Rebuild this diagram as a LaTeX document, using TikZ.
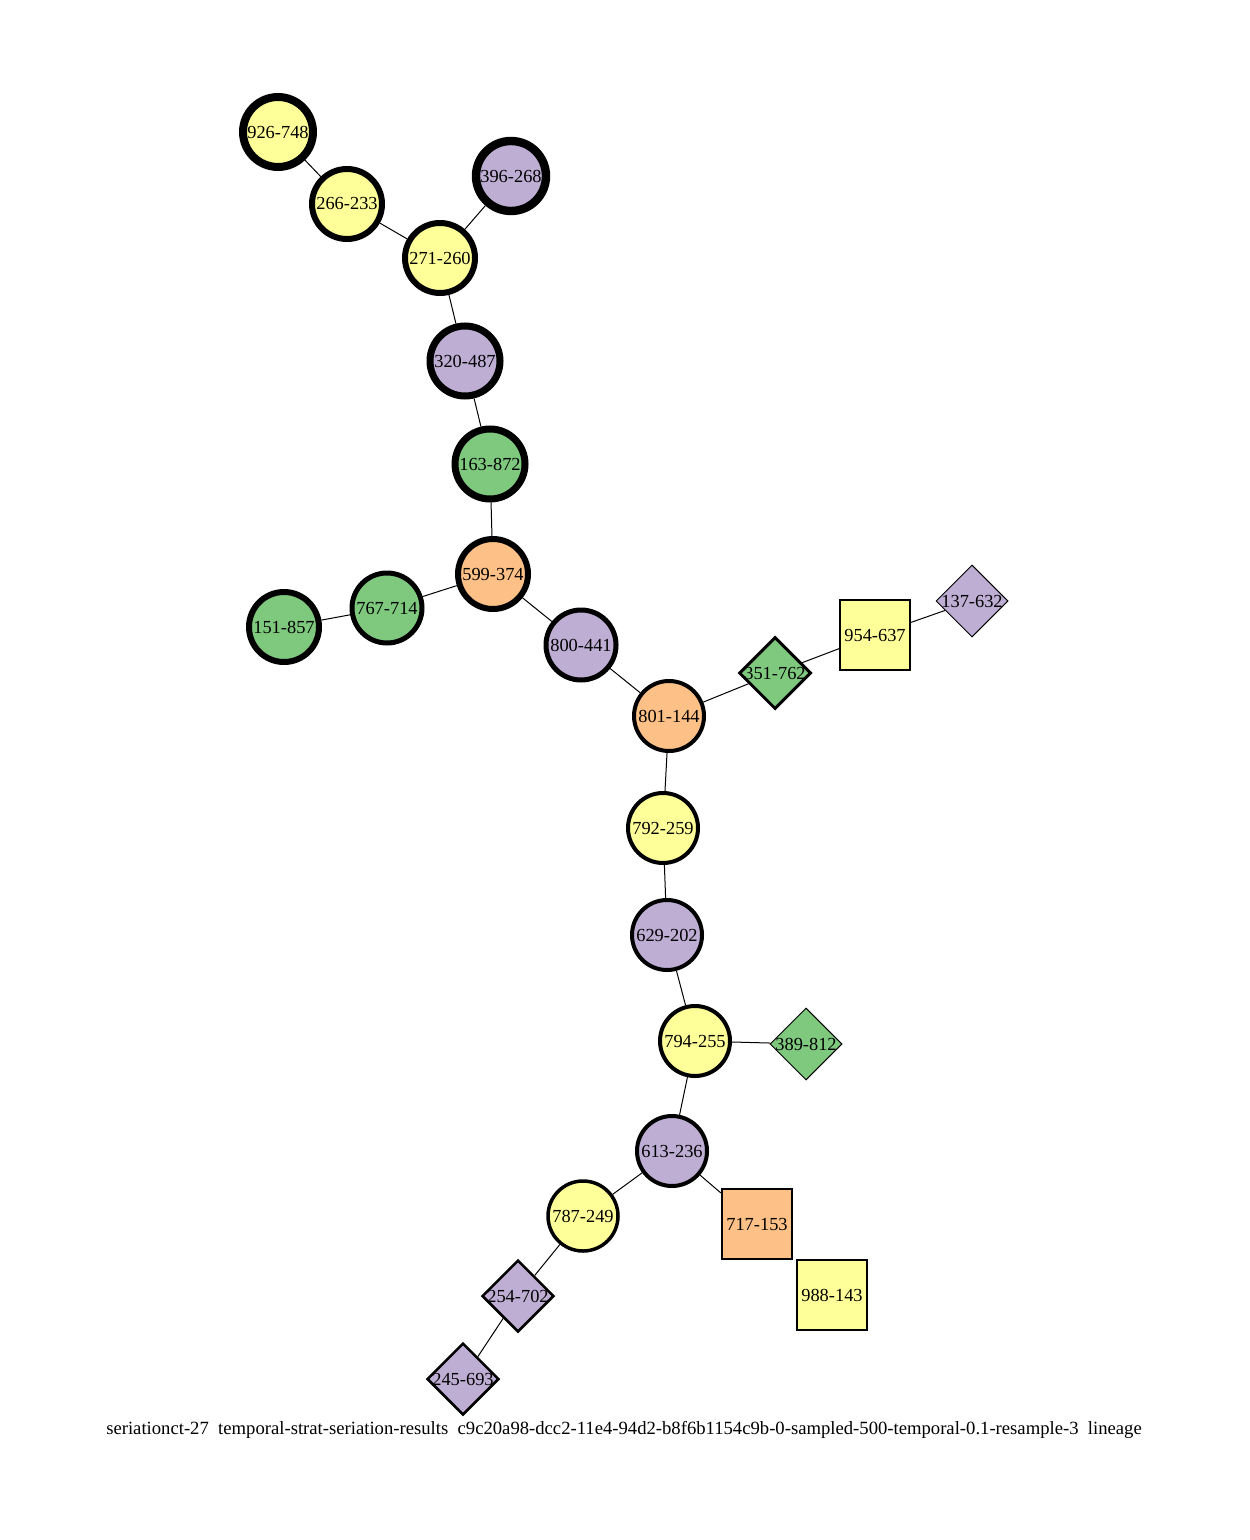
\documentclass[tikz,border=0pt]{standalone}
\usepackage{fontspec}
\setmainfont{Liberation Serif}
\usetikzlibrary{shapes.geometric}
\definecolor{yel}{HTML}{FFFF99}
\definecolor{pur}{HTML}{BEAED4}
\definecolor{grn}{HTML}{7FC97F}
\definecolor{org}{HTML}{FDC086}
\newcommand{\lbl}[1]{\makebox[0pt]{#1}}
\tikzset{
    circ/.style={
        circle, draw, inner sep=0pt, minimum size=35pt
    },
    sq/.style={
        rectangle, draw, inner sep=0pt, minimum size=35pt
    },
    dia/.style={
        diamond, draw, inner sep=0pt, minimum size=36pt
    },
    ln/.style={
        line width=0.5pt
    }
}

\begin{document}
\begin{tikzpicture}[x=0.5pt, y=-0.5pt, font=\fontsize{9.2pt}{11pt}\selectfont]
        \useasboundingbox (0,0) rectangle (1249,1540);

        % upper branch

        \node[circ, fill=yel, line width=4pt]    (n926) at (278,132) {926-748};
        \node[circ, fill=yel, line width=3pt]    (n266) at (347,204) {266-233};
        \node[circ, fill=pur, line width=4.2pt]  (n396) at (511,176) {396-268};
        \node[circ, fill=yel, line width=3pt]    (n271) at (440,258) {271-260};
        \node[circ, fill=pur, line width=3.5pt]  (n320) at (465,361) {320-487};
        \node[circ, fill=grn, line width=3.5pt]  (n163) at (490,464) {163-872};
        \node[circ, fill=org, line width=3pt]    (n599) at (493,574) {599-374};
        \node[circ, fill=grn, line width=2.5pt]  (n767) at (387,608) {767-714};
        \node[circ, fill=grn, line width=3pt]    (n151) at (284,627) {151-857};
        \node[circ, fill=pur, line width=2.5pt]  (n800) at (581,645) {800-441};

        \path (n926) edge[ln] (n266)
                (n266) edge[ln] (n271)
                (n396) edge[ln] (n271)
                (n271) edge[ln] (n320)
                (n320) edge[ln] (n163)
                (n163) edge[ln] (n599)
                (n599) edge[ln] (n767)
                (n767) edge[ln] (n151)
                (n599) edge[ln] (n800);

        % right branch

        \node[circ, fill=org, line width=2pt]    (n801) at (669,716) {801-144};
        \node[dia, fill=grn, line width=1.5pt]   (n351) at (775,673) {\lbl{351-762}};
        \node[sq, fill=yel, line width=0.75pt]   (n954) at (875,635) {954-637};
        \node[dia, fill=pur, line width=0.5pt]   (n137) at (972,601) {\lbl{137-632}};

        \path (n800) edge[ln] (n801)
                (n801) edge[ln] (n351)
                (n351) edge[ln] (n954)
                (n954) edge[ln] (n137);

        % lower branch

        \node[circ, fill=yel, line width=2pt]    (n792) at (663,828) {792-259};
        \node[circ, fill=pur, line width=2pt]    (n629) at (667,935) {629-202};
        \node[circ, fill=yel, line width=2pt]    (n794) at (695,1041) {794-255};
        \node[dia, fill=grn, line width=0.5pt]   (n389) at (806,1044) {\lbl{389-812}};
        \node[circ, fill=pur, line width=2pt]    (n613) at (672,1151) {613-236};
        \node[circ, fill=yel, line width=1.75pt] (n787) at (583,1216) {787-249};
        \node[sq, fill=org, line width=1.25pt]   (n717) at (757,1224) {717-153};
        \node[sq, fill=yel, line width=1.25pt]   (n988) at (832,1295) {988-143};
        \node[dia, fill=pur, line width=1.25pt]  (n254) at (518,1296) {\lbl{254-702}};
        \node[dia, fill=pur, line width=1.25pt]  (n245) at (463,1379) {\lbl{245-693}};

        \path (n801) edge[ln] (n792)
                (n792) edge[ln] (n629)
                (n629) edge[ln] (n794)
                (n794) edge[ln] (n389)
                (n794) edge[ln] (n613)
                (n613) edge[ln] (n787)
                (n613) edge[ln] (n717)
                (n787) edge[ln] (n254)
                (n254) edge[ln] (n245);

        % caption

        \node[font=\fontsize{9.33pt}{11pt}\selectfont] (title) at (624,1430) {seriationct-27\ \ temporal-strat-seriation-results\ \ c9c20a98-dcc2-11e4-94d2-b8f6b1154c9b-0-sampled-500-temporal-0.1-resample-3\ \ lineage};
    \end{tikzpicture}
\end{document}
